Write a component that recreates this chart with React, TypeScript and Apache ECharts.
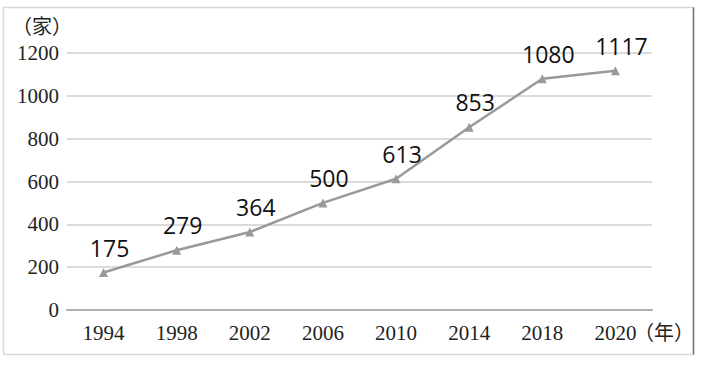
import React, { useEffect, useRef } from "react";
import * as echarts from "echarts";

const years = ["1994", "1998", "2002", "2006", "2010", "2014", "2018", "2020"];
const counts = [175, 279, 364, 500, 613, 853, 1080, 1117];
const yTicks = [0, 200, 400, 600, 800, 1000, 1200];

export default function App() {
  const ref = useRef<HTMLDivElement>(null);
  useEffect(() => {
    const chart = echarts.init(ref.current!, null, { renderer: "svg" });
    chart.setOption({
      animation: false,
      backgroundColor: "#fff",
      textStyle: { fontFamily: "Liberation Serif" },
      grid: { left: 67, right: 51, top: 53, bottom: 62 },
      xAxis: {
        type: "category",
        data: years,
        boundaryGap: true,
        axisLine: { show: true, lineStyle: { color: "#b0b0b0", width: 2 } },
        axisTick: { show: false },
        axisLabel: {
          color: "#222",
          fontFamily: "Liberation Serif",
          fontSize: 21,
          margin: 12,
        },
      },
      yAxis: {
        type: "value",
        min: yTicks[0],
        max: yTicks[yTicks.length - 1],
        interval: 200,
        axisLine: { show: false },
        axisTick: { show: false },
        splitLine: { lineStyle: { color: "#cfcfcf", width: 1.5 } },
        axisLabel: {
          color: "#222",
          fontFamily: "Liberation Serif",
          fontSize: 21,
          margin: 8,
          formatter: (v: number) => String(v),
        },
      },
      graphic: [
        {
          type: "rect",
          shape: { x: 3.5, y: 7.5, width: 690, height: 347 },
          style: { fill: "none", stroke: "#d8d8d8", lineWidth: 1.5 },
          z: -1,
        },
        {
          type: "line",
          shape: { x1: 693.5, y1: 7.5, x2: 693.5, y2: 354.5 },
          style: { stroke: "#777", lineWidth: 1.5 },
        },
        {
          type: "text",
          x: 12,
          y: 15,
          style: {
            text: "（家）",
            fontFamily: "Noto Sans CJK SC",
            fontSize: 20,
            fill: "#222",
          },
        },
        {
          type: "text",
          x: 634,
          y: 321,
          style: {
            text: "（年）",
            fontFamily: "Noto Sans CJK SC",
            fontSize: 20,
            fill: "#222",
          },
        },
      ],
      series: [
        {
          type: "line",
          data: counts,
          symbol: "triangle",
          symbolSize: 9,
          lineStyle: { color: "#999", width: 2.5 },
          itemStyle: { color: "#999" },
          label: {
            show: true,
            position: "top",
            distance: 9,
            offset: [6, 0],
            color: "#111",
            fontFamily: "Open Sans",
            fontSize: 23,
            fontWeight: 500,
          },
        },
      ],
    });
    return () => chart.dispose();
  }, []);
  return (
    <div
      ref={ref}
      style={{ position: "absolute", left: 0, top: 0, width: 703, height: 372 }}
    />
  );
}
